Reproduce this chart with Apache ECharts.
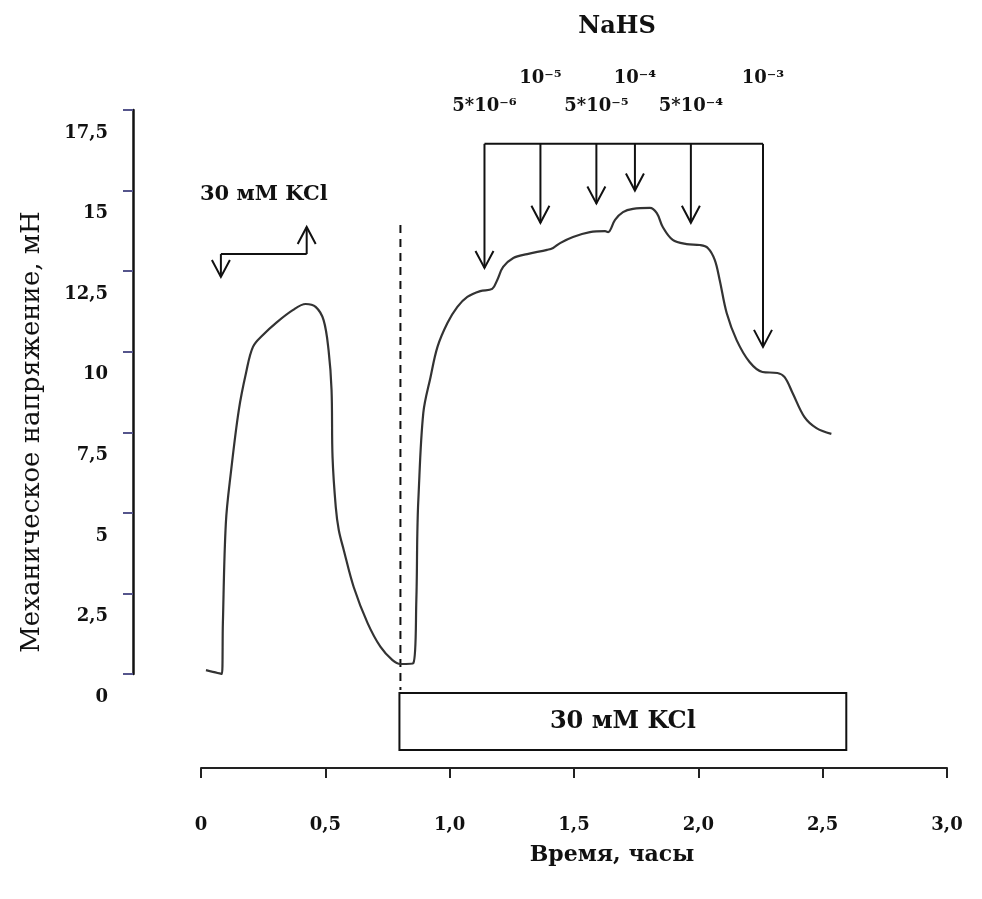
<!DOCTYPE html>
<html>
<head>
<meta charset="utf-8">
<script src="https://cdn.jsdelivr.net/npm/echarts@6/dist/echarts.min.js"></script>
<style>
html, body { margin: 0; padding: 0; background: #fff; }
#chart { width: 982px; height: 899px; }
</style>
</head>
<body>
<div id="chart"></div>
<script>
'use strict';
// запись сокращения: время (часы) и напряжение (мН)
const timeHours = [0.020, 0.084, 0.088, 0.100, 0.120, 0.152, 0.181, 0.209, 0.249, 0.301,
    0.369, 0.421, 0.461, 0.493, 0.513, 0.525, 0.529, 0.542, 0.554, 0.574,
    0.614, 0.670, 0.722, 0.770, 0.802, 0.854, 0.866, 0.870, 0.874, 0.894,
    0.923, 0.951, 0.991, 1.031, 1.071, 1.123, 1.171, 1.191, 1.215, 1.256,
    1.312, 1.392, 1.416, 1.444, 1.496, 1.564, 1.625, 1.637, 1.665, 1.697,
    1.737, 1.805, 1.833, 1.857, 1.897, 1.953, 2.006, 2.038, 2.066, 2.086,
    2.114, 2.154, 2.206, 2.258, 2.318, 2.347, 2.379, 2.427, 2.475, 2.535];
const tensionMN = [0.12, 0.00, 1.58, 4.69, 6.24, 8.19, 9.34, 10.15, 10.52, 10.89,
    11.29, 11.48, 11.39, 10.98, 10.05, 8.81, 6.73, 5.18, 4.47, 3.85,
    2.70, 1.58, 0.84, 0.43, 0.31, 0.34, 2.30, 4.37, 5.40, 8.10,
    9.21, 10.15, 10.89, 11.39, 11.70, 11.88, 11.95, 12.22, 12.63, 12.91,
    13.03, 13.16, 13.22, 13.37, 13.56, 13.71, 13.74, 13.71, 14.09, 14.33,
    14.43, 14.46, 14.30, 13.87, 13.47, 13.34, 13.31, 13.22, 12.85, 12.22,
    11.20, 10.36, 9.68, 9.37, 9.34, 9.21, 8.72, 7.97, 7.63, 7.45];

const xTickLabels = ['0', '0,5', '1,0', '1,5', '2,0', '2,5', '3,0'];
const yTickLabels = ['0', '2,5', '5', '7,5', '10', '12,5', '15', '17,5'];

// добавления NaHS
const doseTimes = [1.14, 1.365, 1.59, 1.745, 1.97, 2.26];
const doseTips = [12.6, 14.0, 14.6, 15.0, 14.0, 10.15];
const doseLabels = ['5*10⁻⁶', '10⁻⁵', '5*10⁻⁵', '10⁻⁴', '5*10⁻⁴', '10⁻³'];
const doseLevel = 16.45;

// первая аппликация KCl: подача / отмывка
const kclPulseTimes = [0.08, 0.425];
const kclPulseTips = [12.32, 13.87];
const kclPulseLevel = 13.03;

// вторая аппликация KCl
const washTime = 0.802;
const washTop = 13.93;
const kclBath = [0.798, 2.595];

const INK = '#111';
const FONT = '"DejaVu Serif", "Liberation Serif", serif';

function renderNotes(params, api) {
    const kids = [];
    const line = (pts, extra) => ({
        type: 'polyline',
        shape: { points: pts },
        style: Object.assign({ stroke: INK, lineWidth: 2, fill: null }, extra || {}),
    });
    const arrow = (t, from, to) => {
        const a = api.coord([t, from]);
        const b = api.coord([t, to]);
        const dir = b[1] > a[1] ? -1 : 1;
        kids.push(line([a, b]));
        kids.push(line([[b[0] - 9, b[1] + dir * 17], b, [b[0] + 9, b[1] + dir * 17]]));
    };
    const text = (str, x, y, size) => ({
        type: 'text',
        style: {
            text: str, x: x, y: y, fill: INK, align: 'center', verticalAlign: 'middle',
            font: 'bold ' + size + 'px ' + FONT,
        },
    });

    // NaHS
    const b0 = api.coord([doseTimes[0], doseLevel]);
    const b1 = api.coord([doseTimes[doseTimes.length - 1], doseLevel]);
    kids.push(line([b0, b1]));
    doseTimes.forEach((t, i) => {
        arrow(t, doseLevel, doseTips[i]);
        const p = api.coord([t, doseLevel]);
        kids.push(text(doseLabels[i], p[0], p[1] - (i % 2 ? 66 : 38), 18));
    });

    // KCl pulse
    const k0 = api.coord([kclPulseTimes[0], kclPulseLevel]);
    const k1 = api.coord([kclPulseTimes[1], kclPulseLevel]);
    kids.push(line([k0, k1]));
    arrow(kclPulseTimes[0], kclPulseLevel, kclPulseTips[0]);
    arrow(kclPulseTimes[1], kclPulseLevel, kclPulseTips[1]);
    kids.push(text('30 мМ KCl', (k0[0] + k1[0]) / 2, k0[1] - 60, 21));

    // dashed marker + KCl box
    const w0 = api.coord([washTime, washTop]);
    const w1 = api.coord([washTime, 0]);
    kids.push(line([w0, [w1[0], w1[1] + 16]], { lineDash: [8, 6], lineWidth: 2 }));
    const r0 = api.coord([kclBath[0], 0]);
    const r1 = api.coord([kclBath[1], 0]);
    kids.push({
        type: 'rect',
        shape: { x: r0[0], y: r0[1] + 19, width: r1[0] - r0[0], height: 57 },
        style: { stroke: INK, lineWidth: 2, fill: '#fff' },
    });
    kids.push(text('30 мМ KCl', (r0[0] + r1[0]) / 2, r0[1] + 48, 24));

    return { type: 'group', children: kids };
}

const chart = echarts.init(document.getElementById('chart'));
chart.setOption({
    animation: false,
    backgroundColor: '#fff',
    title: {
        text: 'NaHS',
        left: 612,
        top: 10,
        textAlign: 'center',
        textStyle: { fontFamily: FONT, fontWeight: 'bold', fontSize: 24, color: INK },
    },
    grid: { left: 201, right: 35, top: 110, bottom: 225 },
    xAxis: {
        type: 'value',
        min: 0,
        max: 3,
        interval: 0.5,
        offset: 94,
        name: 'Время, часы',
        nameLocation: 'middle',
        nameGap: 76,
        nameTextStyle: {
            fontFamily: FONT, fontWeight: 'bold', fontSize: 22, color: INK,
            padding: [0, 0, 0, 76],
        },
        axisLine: { onZero: false, lineStyle: { color: '#222', width: 2 } },
        axisTick: { length: 10, lineStyle: { color: '#222', width: 2 } },
        axisLabel: {
            margin: 48,
            fontFamily: FONT, fontWeight: 'bold', fontSize: 18, color: INK,
            formatter: (v) => xTickLabels[Math.round(v / 0.5)],
        },
        splitLine: { show: false },
    },
    yAxis: {
        type: 'value',
        min: 0,
        max: 17.5,
        interval: 2.5,
        offset: 68,
        name: 'Механическое напряжение, мН',
        nameLocation: 'middle',
        nameGap: 88,
        nameTextStyle: {
            fontFamily: FONT, fontSize: 26, color: INK,
            padding: [0, 80, 0, 0],
        },
        axisLine: { show: true, onZero: false, lineStyle: { color: '#111', width: 2.5 } },
        axisTick: { show: true, length: 10, lineStyle: { color: '#55558c', width: 2 } },
        axisLabel: {
            margin: 25,
            fontFamily: FONT, fontWeight: 'bold', fontSize: 18, color: INK,
            verticalAlign: 'top',
            lineHeight: 46,
            formatter: (v) => yTickLabels[Math.round(v / 2.5)],
        },
        splitLine: { show: false },
    },
    series: [
        {
            type: 'line',
            data: timeHours.map((t, i) => [t, tensionMN[i]]),
            showSymbol: false,
            smooth: 0.35,
            lineStyle: { color: '#333', width: 2.2 },
        },
        {
            type: 'custom',
            data: [0],
            clip: false,
            silent: true,
            renderItem: renderNotes,
        },
    ],
});

window.addEventListener('resize', () => chart.resize());
</script>
</body>
</html>
